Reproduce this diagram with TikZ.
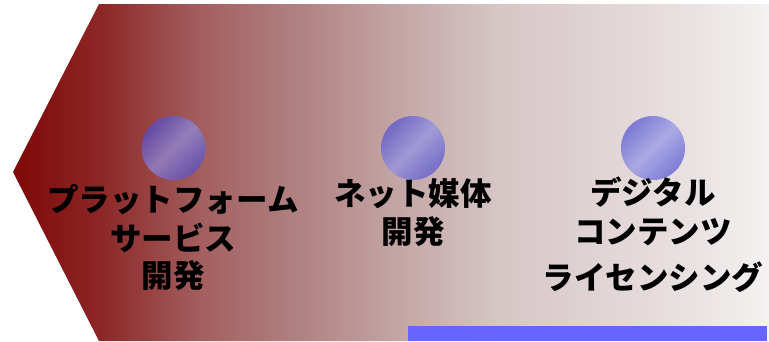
\documentclass[tikz,border=0pt]{standalone}
\usepackage{fontspec}
\newfontfamily\jp{Noto Sans CJK JP}
\pgfdeclarehorizontalshading{bgshade}{100bp}{%
rgb(0bp)=(0.50,0.03,0.03);
rgb(25bp)=(0.50,0.03,0.03);
rgb(30.75bp)=(0.55,0.15,0.15);
rgb(37.37bp)=(0.64,0.37,0.37);
rgb(43.98bp)=(0.69,0.51,0.51);
rgb(50.6bp)=(0.77,0.65,0.65);
rgb(57.2bp)=(0.84,0.78,0.78);
rgb(63.8bp)=(0.88,0.83,0.83);
rgb(70.4bp)=(0.92,0.89,0.89);
rgb(75bp)=(0.96,0.95,0.95);
rgb(100bp)=(0.96,0.95,0.95)}
\definecolor{balledge}{RGB}{77,78,210}
\definecolor{ballmid}{RGB}{143,146,233}
\definecolor{barblue}{RGB}{102,102,255}
\begin{document}
\begin{tikzpicture}[x=1pt,y=-1pt,
  ball/.style={circle,minimum size=64pt,inner sep=0pt,draw=none,
    top color=balledge,bottom color=balledge,
    middle color=ballmid,shading=axis,shading angle=45,opacity=0.68},
  lbl/.style={font=\jp\bfseries\fontsize{31.5}{36}\selectfont,anchor=base,inner sep=0pt}]
\useasboundingbox (0,0) rectangle (769,341);
\shade[shading=bgshade] (99,4) -- (769,4) -- (769,341) -- (99,341) -- (13,172) -- cycle;
\fill[barblue] (408,326) rectangle (767,341);
\node[ball] (b1) at (173.5,148) {};
\node[ball] (b2) at (413,148) {};
\node[ball] (b3) at (653,148) {};
\node[lbl] (t1a) at (173,211) {プラットフォーム};
\node[lbl] (t1b) at (173,250) {サービス};
\node[lbl] (t1c) at (173,287) {開発};
\node[lbl] (t2a) at (413,205) {ネット媒体};
\node[lbl] (t2b) at (413,243) {開発};
\node[lbl] (t3a) at (653,204) {デジタル};
\node[lbl] (t3b) at (653,243) {コンテンツ};
\node[lbl] (t3c) at (653,289) {ライセンシング};
\end{tikzpicture}
\end{document}
